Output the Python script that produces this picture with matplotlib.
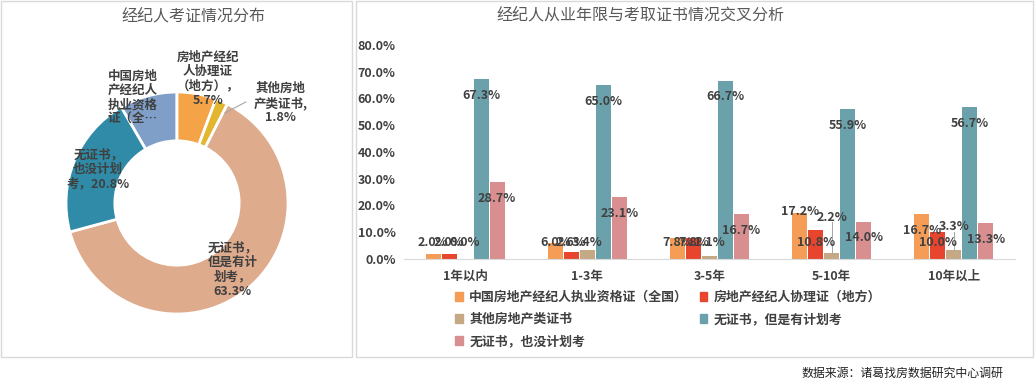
import numpy as np
import matplotlib
matplotlib.use("Agg")
import matplotlib.pyplot as plt
from matplotlib.patches import Patch, Rectangle

plt.rcParams['font.family'] = ['Noto Sans CJK SC', 'DejaVu Sans']

# ---- data ----
series = ['中国房地产经纪人执业资格证（全国）', '房地产经纪人协理证（地方）',
          '其他房地产类证书', '无证书，但是有计划考', '无证书，也没计划考']
years = ['1年以内', '1-3年', '3-5年', '5-10年', '10年以上']
cert_all = [2.0, 6.0, 7.8, 17.2, 16.7]
cert_local = [2.0, 2.6, 7.8, 10.8, 10.0]
cert_other = [0.0, 3.4, 1.1, 2.2, 3.3]
none_plan = [67.3, 65.0, 66.7, 55.9, 56.7]
none_noplan = [28.7, 23.1, 16.7, 14.0, 13.3]

pie_vals = [8.4, 5.7, 1.8, 63.3, 20.8]
pie_text = ['中国房地\n产经纪人\n执业资格\n证（全…', '房地产经纪\n人协理证\n（地方），\n',
            '其他房地\n产类证书,\n', '无证书，\n但是有计\n划考，\n', '无证书，\n也没计划\n考，']

bar_cols = ['#F59D56', '#E8452F', '#C5A985', '#6BA1AA', '#D98E90']
pie_cols = ['#7F9FC8', '#F4A447', '#E2B72F', '#DEAB8D', '#2F8BA7']
txt = '#404040'

W, H = 1036, 382
fig = plt.figure(figsize=(W / 100, H / 100), dpi=100)

def px(x, y, w, h):
    return [x / W, 1 - (y + h) / H, w / W, h / H]

# panel frames
for (x0, x1) in [(1, 352), (356, 1033)]:
    fig.patches.append(Rectangle((x0 / W, 1 - 357 / H), (x1 - x0) / W, 356 / H,
                                 transform=fig.transFigure, fill=False,
                                 edgecolor='#D9D9D9', lw=1))

# ---- donut ----
ax1 = fig.add_axes(px(66, 92, 222, 222))
start = 90 + pie_vals[0] * 3.6
ax1.pie(pie_vals, colors=pie_cols, startangle=start, counterclock=False,
        radius=1, wedgeprops=dict(width=0.44, edgecolor='white', linewidth=2))
ax1.set_xlim(-1, 1)
ax1.set_ylim(-1, 1)
ax1.set_aspect('equal')
lab_pos = [(-0.40, 0.95), (0.28, 1.12), (0.93, 0.90), (0.50, -0.60), (-0.71, 0.30)]
for i, (t, v) in enumerate(zip(pie_text, pie_vals)):
    s = t if i == 0 else t + f'{v:.1f}%'
    ax1.text(lab_pos[i][0], lab_pos[i][1], s, ha='center', va='center',
             fontsize=9, fontweight='bold', color=txt, linespacing=1.15)
ax1.plot([0.43, 0.62], [0.81, 0.91], color='#A6A6A6', lw=0.8)
fig.text(193 / W, 1 - 16 / H, '经纪人考证情况分布', ha='center', va='center',
         fontsize=11.5, color='#595959')

# ---- grouped bars ----
ax2 = fig.add_axes(px(404, 45, 611, 214))
data = [cert_all, cert_local, cert_other, none_plan, none_noplan]
x = np.arange(len(years))
step = 0.131
handles = []
label_fix = {(3, 0): 17.6, (3, 2): 15.7, (4, 2): 12.0}
for k, vals in enumerate(data):
    xs = x + (k - 2) * step
    ax2.bar(xs, vals, width=0.123, color=bar_cols[k], zorder=2)
    handles.append(Patch(color=bar_cols[k], label=series[k]))
    for j, v in enumerate(vals):
        ly = v - 6 if v >= 12 else 6
        ly = label_fix.get((j, k), ly)
        ax2.text(xs[j], ly, f'{v:.1f}%', ha='center', va='center', fontsize=9,
                 fontweight='bold', color=txt, zorder=4)
        if (j, k) in [(3, 2), (4, 2)]:
            ax2.plot([xs[j], xs[j]], [v, ly - 2], color='#A6A6A6', lw=0.7, zorder=3)

ax2.set_xlim(-0.5, 4.5)
ax2.set_ylim(0, 80)
ax2.set_yticks(np.arange(0, 81, 10))
ax2.set_yticklabels([f'{t:.1f}%' for t in range(0, 81, 10)])
ax2.set_xticks(x)
ax2.set_xticklabels(years)
for sp in ['top', 'right', 'left']:
    ax2.spines[sp].set_visible(False)
ax2.spines['bottom'].set_color('#D9D9D9')
ax2.tick_params(axis='both', length=0, labelsize=9, labelcolor=txt)
ax2.tick_params(axis='x', pad=8)
for lab in ax2.get_xticklabels() + ax2.get_yticklabels():
    lab.set_fontweight('bold')
ax2.tick_params(axis='y', pad=6)

order = [0, 2, 4, 1, 3]
leg = fig.legend([handles[i] for i in order], [series[i] for i in order],
                 ncol=2, loc='upper left', bbox_to_anchor=(455 / W, 1 - 290 / H),
                 frameon=False, fontsize=9.3, handlelength=0.6, handleheight=0.6,
                 handletextpad=0.5, columnspacing=0.9, labelspacing=0.62,
                 borderaxespad=0, borderpad=0)
for t in leg.get_texts():
    t.set_fontweight('bold')
    t.set_color(txt)

fig.text(640 / W, 1 - 15 / H, '经纪人从业年限与考取证书情况交叉分析', ha='center',
         va='center', fontsize=11.5, color='#595959')
fig.text(1003 / W, 1 - 373 / H, '数据来源：诸葛找房数据研究中心调研', ha='right',
         va='center', fontsize=8.6, color='#222222')

fig.savefig('out.png', dpi=100)
